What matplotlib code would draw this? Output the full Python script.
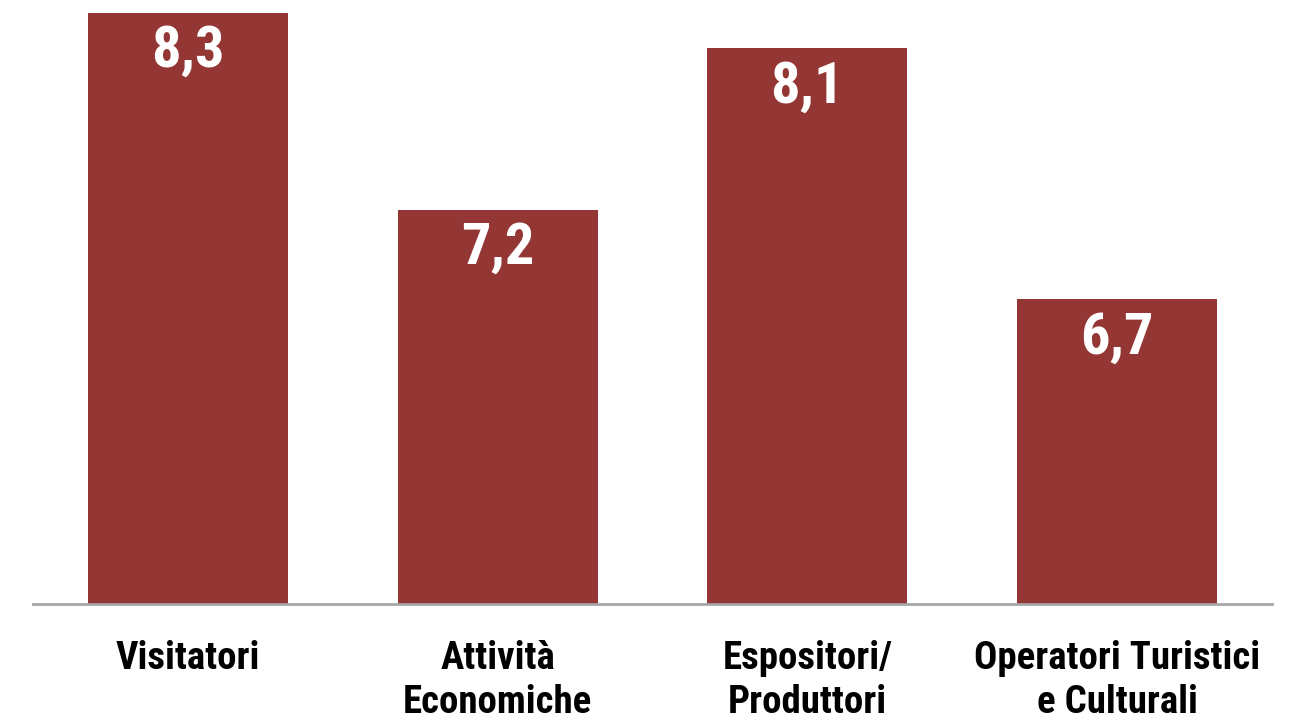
import matplotlib.pyplot as plt

categories = ["Visitatori", "Attività\nEconomiche", "Espositori/\nProduttori", "Operatori Turistici\ne Culturali"]
values = [8.3, 7.2, 8.1, 6.7]
value_labels = ["8,3", "7,2", "8,1", "6,7"]

plt.rcParams["font.family"] = ["Roboto Condensed", "DejaVu Sans"]

bar_color = "#943634"

fig = plt.figure(figsize=(13.07, 7.27), dpi=100)
W, H = 1307, 727
ax = fig.add_axes([33 / W, (H - 604) / H, (1272 - 33) / W, 604 / H])

x = list(range(len(categories)))
ax.bar(x, values, width=0.646, color=bar_color, zorder=2)
ax.set_xlim(-0.5, 3.5)
ax.set_ylim(5, 8.37)

for xi, v, lab in zip(x, values, value_labels):
    ax.annotate(lab, (xi, v), xytext=(0, -39), textcoords="offset points",
                ha="center", va="baseline", color="white", fontsize=42, fontweight="bold")

ax.set_xticks(x)
ax.set_xticklabels(categories, fontsize=28, fontweight="bold", linespacing=1.25)
ax.tick_params(axis="x", length=0, pad=26)
ax.set_yticks([])
for s in ("top", "right", "left"):
    ax.spines[s].set_visible(False)
ax.spines["bottom"].set_color("#a6a6a6")
ax.spines["bottom"].set_linewidth(2)
ax.spines["bottom"].set_zorder(3)

fig.savefig("out.png", dpi=100, facecolor="white")
